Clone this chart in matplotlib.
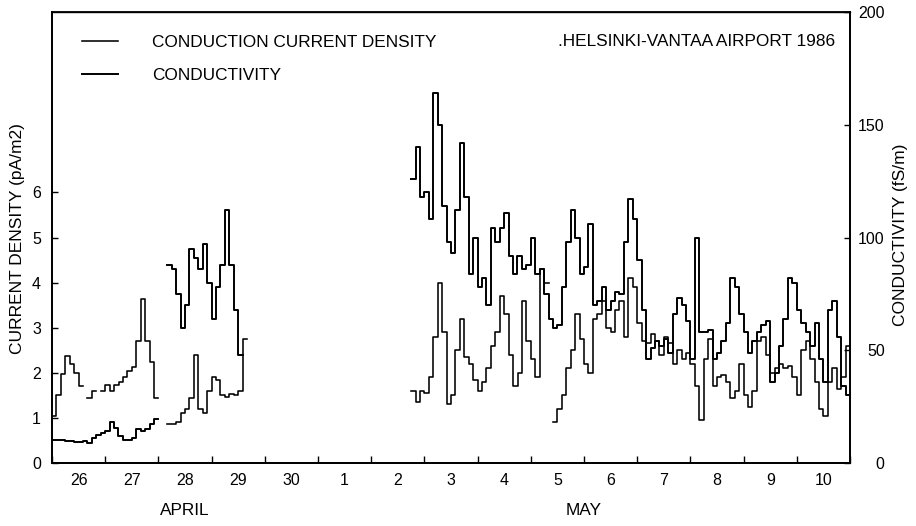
import numpy as np
import matplotlib
matplotlib.use("Agg")
import matplotlib.pyplot as plt

plt.rcParams['font.family'] = ['Liberation Sans', 'DejaVu Sans']

nan = np.nan
STEP = 1.0 / 12.0          # two-hour sampling interval, in days
# time axis in days counted from 26 April 1986 00:00
seg_start = [0.0, 26 / 12, 81 / 12]

# conduction current density, pA/m2 (one list per recording segment)
cd_apr26 = [1.05, 1.5, 1.98, 2.38, 2.2, 2.0, 1.7, nan, 1.45, 1.6, nan, 1.6,
            1.72, 1.6, 1.72, 1.8, 1.9, 2.05, 2.12, 2.7, 3.64, 2.7, 2.25, 1.45]
cd_apr28 = [0.87, 0.87, 0.92, 1.1, 1.2, 1.45, 2.4, 1.2, 1.1, 1.6, 1.9, 1.85,
            1.5, 1.46, 1.53, 1.5, 1.6, 2.75]
cd_may = [1.6, 1.35, 1.6, 1.55, 1.9, 2.8, 4.0, 2.9, 1.3, 1.5, 2.5, 3.2,
          2.35, 2.2, 1.85, 1.6, 1.8, 2.1, 2.6, 2.9, 3.7, 3.3, 2.4, 1.7,
          2.0, 3.6, 2.7, 2.3, 1.9, 4.3, 4.0, nan, 0.9, 1.2, 1.5, 2.1,
          2.5, 3.3, 2.75, 2.2, 2.0, 3.2, 3.3, 3.6, 3.0, 2.9, 3.4, 3.6,
          2.8, 4.1, 3.9, 3.1, 2.7, 2.65, 2.85, 2.7, 2.4, 2.8, 2.65, 2.2,
          2.5, 2.3, 2.45, 2.2, 1.7, 0.95, 2.3, 2.75, 1.7, 1.9, 1.95, 1.8,
          1.45, 1.6, 2.2, 1.5, 1.25, 1.6, 2.7, 2.8, 2.4, 2.0, 2.1, 2.2,
          2.1, 2.15, 1.9, 1.5, 2.5, 2.7, 2.3, 1.8, 1.2, 1.05, 1.8, 2.1,
          1.65, 1.9, 2.6]

# conductivity, fS/m
cond_apr26 = [10, 10.4, 10.4, 9.6, 9.6, 9.4, 9.4, 9.6, 8.8, 11, 12.4, 13.2,
              14.4, 18, 15.6, 12, 10.4, 10, 11.2, 15, 14.4, 15.2, 17.2, 19.4]
cond_apr28 = [88, 86, 75, 60, 70, 95, 91, 86, 97, 80, 64, 78, 88, 112, 88,
              68, 48]
cond_may = [126, 140, 118, 120, 108, 164, 150, 114, 98, 93, 112, 142,
            118, 84, 100, 78, 82, 70, 104, 98, 104, 111, 92, 84,
            92, 86, 88, 100, 84, 86, 75, 64, 60, 61, 78, 98,
            112, 100, 84, 87, 106, 70, 72, 78, 68, 72, 76, 75,
            98, 117, 108, 90, 68, 46, 51, 54, 52, 55, 49, 66,
            73, 70, 63, 46, 100, 58, 58, 59, 46, 49, 54, 62,
            82, 78, 66, 58, 49, 54, 58, 61, 63, 36, 40, 52,
            64, 82, 80, 68, 62, 58, 52, 62, 46, 36, 68, 72,
            56, 34, 30]

current_density = [cd_apr26, cd_apr28, cd_may]
conductivity = [cond_apr26, cond_apr28, cond_may]

day_labels = ["26", "27", "28", "29", "30", "1", "2", "3", "4", "5",
              "6", "7", "8", "9", "10"]
months = ["APRIL", "MAY"]
month_centres = [2.5, 10.0]


def stair_xy(t0, vals):
    v = np.asarray(vals, dtype=float)
    t = t0 + STEP * np.arange(v.size + 1)
    return t, np.append(v, v[-1])


fig = plt.figure(figsize=(9.16, 5.26), dpi=100)
ax = fig.add_axes([52 / 916, 63 / 526, 798 / 916, 451 / 526])
ax2 = ax.twinx()

for i, (t0, vals) in enumerate(zip(seg_start, current_density)):
    t, y = stair_xy(t0, vals)
    ax.plot(t, y, drawstyle='steps-post', color='black', lw=1.15,
            label='CONDUCTION CURRENT DENSITY' if i == 0 else None)
for i, (t0, vals) in enumerate(zip(seg_start, conductivity)):
    t, y = stair_xy(t0, vals)
    ax2.plot(t, y, drawstyle='steps-post', color='black', lw=1.4,
             label='CONDUCTIVITY' if i == 0 else None)

ax.set_xlim(0, 15)
ax.set_ylim(0, 10)
ax2.set_ylim(0, 200)

# day boundaries carry the tick marks, day names sit between them
ax.set_xticks(np.arange(0, 16))
ax.set_xticklabels([])
ax.set_xticks(np.arange(15) + 0.5, minor=True)
ax.set_xticklabels(day_labels, minor=True)
ax.tick_params(axis='x', which='major', direction='in', length=5, width=1)
ax.tick_params(axis='x', which='minor', length=0, pad=7, labelsize=11.5)

ax.set_yticks(np.arange(0, 7))
ax.tick_params(axis='y', direction='in', length=4, width=1, pad=8,
               labelsize=11.5)
ax2.set_yticks([0, 50, 100, 150, 200])
ax2.tick_params(axis='y', direction='in', length=4, width=1, pad=25,
                labelsize=11.5)
for lab in ax2.get_yticklabels():
    lab.set_horizontalalignment('right')

ax.set_ylabel('CURRENT DENSITY (pA/m2)', fontsize=12.5)
ax.yaxis.set_label_coords(-0.034, (463 - 239) / 451)
ax2.set_ylabel('CONDUCTIVITY (fS/m)', fontsize=12.5)
ax2.yaxis.set_label_coords(1.054, (463 - 235) / 451)

for name, xc in zip(months, month_centres):
    ax.text(xc, -0.106, name, transform=ax.get_xaxis_transform(),
            ha='center', va='center', fontsize=12.4)

ax.text((835 - 52) / 798, (463 - 41) / 451, '.HELSINKI-VANTAA AIRPORT 1986',
        transform=ax.transAxes, ha='right', va='center', fontsize=12.4)

h1, l1 = ax.get_legend_handles_labels()
h2, l2 = ax2.get_legend_handles_labels()
leg = ax2.legend(h1 + h2, l1 + l2, loc='upper left', frameon=False,
                 bbox_to_anchor=(30 / 798, 1 - 23 / 451), borderpad=0,
                 borderaxespad=0, handlelength=2.1, handletextpad=1.95,
                 labelspacing=1.05, fontsize=12.4)

for a in (ax, ax2):
    for s in a.spines.values():
        s.set_linewidth(1.3)
        s.set_color('black')
ax.spines['top'].set_linewidth(1.0)

fig.savefig('out.png', dpi=100, facecolor='white')
